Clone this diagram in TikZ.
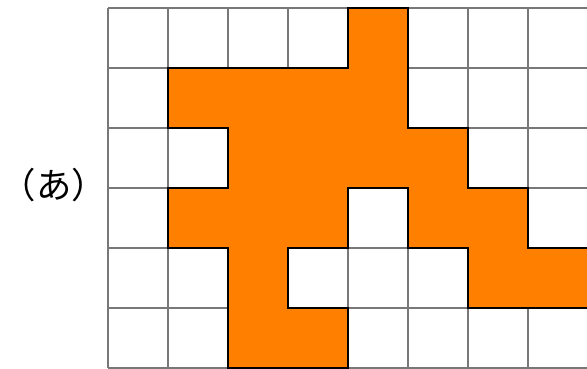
\documentclass[tikz,border=0pt]{standalone}
\usepackage{fontspec}
\newfontfamily\jpfont{Noto Sans CJK JP}
\usepackage{xcolor}
\definecolor{cOrange}{RGB}{255,128,0}
\definecolor{cGrid}{RGB}{120,120,120}
\tikzset{
	cellgrid/.style ={draw=cGrid, line width=0.9pt},
	shapefill/.style={fill=cOrange},
	shapeedge/.style={draw=black, line width=0.8pt, line join=miter},
	tag/.style      ={font=\jpfont\fontsize{16.8}{20}\selectfont, inner sep=0pt},
}
\begin{document}
\begin{tikzpicture}
	\useasboundingbox (-1.8,0) rectangle (7.9833,6.1333);
	% grid
	\foreach \x in {0,...,8} \draw[cellgrid] (\x,0) -- (\x,6);
	\foreach \y in {0,...,6} \draw[cellgrid] (0,\y) -- (8,\y);
	% orange figure with its outline
	\filldraw[shapefill, shapeedge] (4,6) -- (5,6) -- (5,4) -- (6,4) -- (6,3) -- (7,3) -- (7,2) -- (8,2) -- (8,1)
		-- (6,1) -- (6,2) -- (5,2) -- (5,3) -- (4,3) -- (4,2) -- (3,2) -- (3,1) -- (4,1) -- (4,0)
		-- (2,0) -- (2,2) -- (1,2) -- (1,3) -- (2,3) -- (2,4) -- (1,4) -- (1,5) -- (4,5) -- cycle;
	% label
	\node[tag] (label) at (-0.9,3.05) {（あ）};
\end{tikzpicture}
\end{document}
